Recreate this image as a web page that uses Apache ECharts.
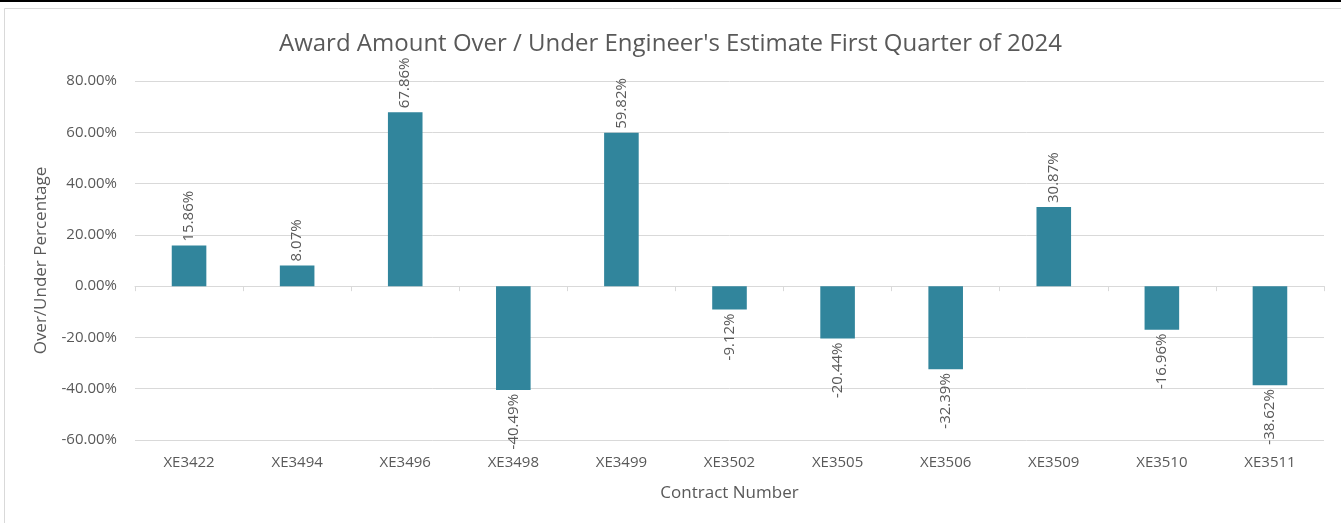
<!DOCTYPE html>
<html>
<head>
<meta charset="utf-8">
<script src="https://cdn.jsdelivr.net/npm/echarts@6/dist/echarts.min.js"></script>
<style>
  html, body { margin: 0; padding: 0; background: #fff; }
  #chart { width: 1341px; height: 523px; }
</style>
</head>
<body>
<div id="chart"></div>
<script>
// contract numbers and over/under percentages
var contracts = ['XE3422', 'XE3494', 'XE3496', 'XE3498', 'XE3499', 'XE3502', 'XE3505', 'XE3506', 'XE3509', 'XE3510', 'XE3511'];
var overUnder = [15.86, 8.07, 67.86, -40.49, 59.82, -9.12, -20.44, -32.39, 30.87, -16.96, -38.62];
var yMin = -60, yMax = 80, yStep = 20;

var textColor = '#595959';
var fontFam = '"Open Sans", "Noto Sans", sans-serif';

// rotated labels sit past the end of each bar: up for positive, down for negative
var barData = overUnder.map(function (v) {
    return {
        value: v,
        label: {
            position: v >= 0 ? 'top' : 'bottom',
            align: v >= 0 ? 'left' : 'right'
        }
    };
});

var myChart = echarts.init(document.getElementById('chart'));
myChart.setOption({
    animation: false,
    textStyle: { fontFamily: fontFam },
    title: {
        text: "Award Amount Over / Under Engineer's Estimate First Quarter of 2024",
        left: 'center',
        top: 27,
        textStyle: { fontSize: 24, fontWeight: 'normal', color: textColor, fontFamily: fontFam }
    },
    graphic: [
        { type: 'rect', shape: { x: 0, y: 0, width: 1341, height: 2 }, style: { fill: '#000' } },
        { type: 'polyline', shape: { points: [[4.5, 523], [4.5, 8.5], [1341, 8.5]] }, style: { stroke: '#d9d9d9', fill: null, lineWidth: 1 } }
    ],
    grid: { left: 135, right: 17, top: 81, bottom: 83 },
    xAxis: [
        {
            type: 'category',
            data: contracts,
            axisLine: { onZero: true, lineStyle: { color: '#d9d9d9', width: 1 } },
            axisTick: { show: true, length: 5, lineStyle: { color: '#d9d9d9' } },
            axisLabel: { show: false }
        },
        {
            type: 'category',
            data: contracts,
            position: 'bottom',
            axisLine: { show: false, onZero: false },
            axisTick: { show: false },
            axisLabel: { color: textColor, fontSize: 15, margin: 15 },
            name: 'Contract Number',
            nameLocation: 'middle',
            nameGap: 45,
            nameTextStyle: { color: textColor, fontSize: 17 }
        }
    ],
    yAxis: {
        type: 'value',
        min: yMin,
        max: yMax,
        interval: yStep,
        axisLine: { show: false },
        axisTick: { show: false },
        splitLine: { lineStyle: { color: '#d9d9d9', width: 1 } },
        axisLabel: {
            color: textColor,
            fontSize: 15,
            margin: 18,
            formatter: function (v) { return v.toFixed(2) + '%'; }
        },
        name: 'Over/Under Percentage',
        nameLocation: 'middle',
        nameGap: 85,
        nameTextStyle: { color: textColor, fontSize: 17 }
    },
    series: [
        {
            type: 'bar',
            xAxisIndex: 0,
            data: barData,
            barWidth: '32%',
            itemStyle: { color: '#31859c' },
            label: {
                show: true,
                rotate: 90,
                verticalAlign: 'middle',
                distance: 4,
                color: textColor,
                fontSize: 15,
                formatter: function (p) { return p.value.toFixed(2) + '%'; }
            }
        }
    ]
});
</script>
</body>
</html>
